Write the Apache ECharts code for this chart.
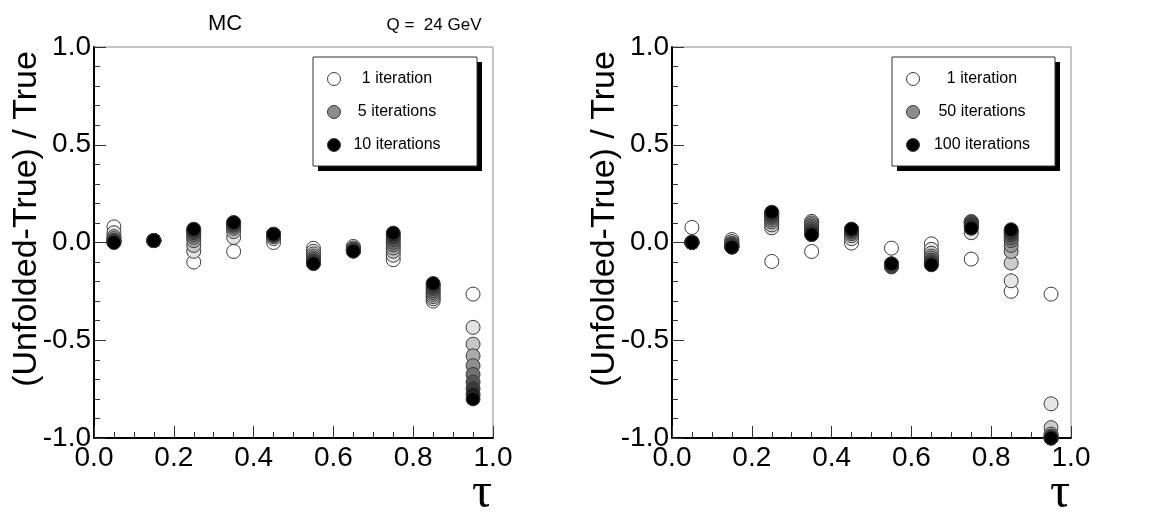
<!DOCTYPE html>
<html>
<head>
<meta charset="utf-8">
<script src="https://cdn.jsdelivr.net/npm/echarts@6/dist/echarts.min.js"></script>
<style>
html,body{margin:0;padding:0;background:#fff;}
#chart{width:1159px;height:515px;}
</style>
</head>
<body>
<div id="chart"></div>
<script>
// ---- data ----
const tauBins = [0.05, 0.15, 0.25, 0.35, 0.45, 0.55, 0.65, 0.75, 0.85, 0.95];
const xTicks = ['0.0', '0.2', '0.4', '0.6', '0.8', '1.0'];
const yTicks = ['-1.0', '-0.5', '0.0', '0.5', '1.0'];

// Left panel (MC, Q = 24 GeV): iterations 1..10, one row per iteration
const leftIterations = [1, 2, 3, 4, 5, 6, 7, 8, 9, 10];
const leftRatios = [
  [0.080, 0.010, -0.100, -0.046, 0.000, -0.030, -0.020, -0.088, -0.300, -0.264],
  [0.050, 0.010, -0.045,  0.026, 0.020, -0.045, -0.028, -0.065, -0.288, -0.434],
  [0.030, 0.010, -0.015,  0.056, 0.030, -0.058, -0.033, -0.045, -0.277, -0.520],
  [0.020, 0.010,  0.010,  0.072, 0.035, -0.070, -0.037, -0.028, -0.266, -0.580],
  [0.012, 0.010,  0.027,  0.082, 0.038, -0.080, -0.040, -0.012, -0.256, -0.630],
  [0.008, 0.010,  0.040,  0.089, 0.040, -0.088, -0.041,  0.000, -0.246, -0.675],
  [0.005, 0.010,  0.050,  0.094, 0.041, -0.095, -0.042,  0.015, -0.236, -0.714],
  [0.003, 0.010,  0.058,  0.097, 0.042, -0.100, -0.043,  0.028, -0.226, -0.748],
  [0.002, 0.010,  0.064,  0.100, 0.042, -0.105, -0.044,  0.040, -0.217, -0.777],
  [0.000, 0.010,  0.068,  0.102, 0.042, -0.108, -0.044,  0.048, -0.210, -0.800]
];
const leftLegend = ['1 iteration', '5 iterations', '10 iterations'];

// Right panel: iterations 1, 10, 20, ..., 100
const rightIterations = [1, 10, 20, 30, 40, 50, 60, 70, 80, 90, 100];
const rightRatios = [
  [0.077,  0.015, -0.097, -0.046, -0.003, -0.029, -0.007, -0.085, -0.250, -0.264],
  [0.002,  0.005,  0.075,  0.108,  0.020, -0.125, -0.035,  0.050, -0.196, -0.825],
  [0.001, -0.003,  0.090,  0.100,  0.035, -0.122, -0.055,  0.100, -0.105, -0.947],
  [0.001, -0.008,  0.105,  0.092,  0.045, -0.120, -0.070,  0.107, -0.046, -0.980],
  [0.000, -0.012,  0.115,  0.084,  0.052, -0.118, -0.080,  0.105, -0.015, -0.990],
  [0.000, -0.015,  0.125,  0.076,  0.057, -0.116, -0.090,  0.100,  0.010, -0.995],
  [0.000, -0.018,  0.133,  0.068,  0.060, -0.114, -0.097,  0.095,  0.025, -0.998],
  [0.000, -0.020,  0.140,  0.060,  0.063, -0.112, -0.103,  0.090,  0.040, -1.000],
  [0.000, -0.022,  0.146,  0.053,  0.065, -0.111, -0.108,  0.085,  0.050, -1.000],
  [0.000, -0.023,  0.151,  0.046,  0.067, -0.110, -0.111,  0.080,  0.058, -1.000],
  [0.000, -0.024,  0.155,  0.040,  0.068, -0.109, -0.114,  0.073,  0.065, -1.000]
];
const rightLegend = ['1 iteration', '50 iterations', '100 iterations'];

// ---- chart ----
const FONT = '"Liberation Sans", Arial, Helvetica, sans-serif';
function grayFor(k, n) {
  const g = Math.round(255 * (1 - k / (n - 1)));
  return 'rgb(' + g + ',' + g + ',' + g + ')';
}
function seriesFor(rows, iters, gi) {
  return rows.map((row, k) => ({
    type: 'scatter',
    name: iters[k] + (iters[k] === 1 ? ' iteration' : ' iterations'),
    xAxisIndex: gi, yAxisIndex: gi,
    data: tauBins.map((t, i) => [t, row[i]]),
    symbol: 'circle', symbolSize: 14, clip: false,
    itemStyle: { color: grayFor(k, rows.length), borderColor: '#3a3a3a', borderWidth: 1, opacity: 1 },
    emphasis: { disabled: true }
  }));
}
function xAxisFor(gi) {
  return {
    type: 'value', gridIndex: gi, min: 0, max: 1, interval: 0.2,
    axisLine: { show: true, onZero: false, lineStyle: { color: '#000', width: 2 } },
    axisTick: { show: true, inside: true, length: 12, lineStyle: { color: '#333', width: 1 } },
    minorTick: { show: true, splitNumber: 4, length: 6, lineStyle: { color: '#333', width: 1 } },
    splitLine: { show: false },
    axisLabel: { fontFamily: FONT, fontSize: 28, color: '#000', margin: 6,
      formatter: v => xTicks[Math.round(v / 0.2)] }
  };
}
function yAxisFor(gi) {
  return {
    type: 'value', gridIndex: gi, min: -1, max: 1, interval: 0.5,
    axisLine: { show: true, onZero: false, lineStyle: { color: '#000', width: 2 } },
    axisTick: { show: true, inside: true, length: 12, lineStyle: { color: '#333', width: 1 } },
    minorTick: { show: true, splitNumber: 5, length: 6, lineStyle: { color: '#333', width: 1 } },
    splitLine: { show: false },
    axisLabel: { fontFamily: FONT, fontSize: 28, color: '#000', margin: 3,
      formatter: v => yTicks[Math.round((v + 1) / 0.5)] }
  };
}
function legendGraphics(x0, y0, w, h, circleX, textX, labels) {
  const grays = ['#ffffff', '#8c8c8c', '#000000'];
  const els = [
    { type: 'rect', shape: { x: x0 + 5, y: y0 + 5, width: w, height: h }, style: { fill: '#000' }, z: 10 },
    { type: 'rect', shape: { x: x0, y: y0, width: w, height: h }, style: { fill: '#fff', stroke: '#333', lineWidth: 1 }, z: 11 }
  ];
  labels.forEach((lab, i) => {
    const cy = y0 + 22 + i * 33;
    els.push({ type: 'circle', shape: { cx: circleX, cy: cy, r: 6.5 }, style: { fill: grays[i], stroke: '#3a3a3a', lineWidth: 1 }, z: 12 });
    els.push({ type: 'text', x: textX, y: cy, style: { text: lab, font: '16px ' + FONT, fill: '#000', textAlign: 'center', textVerticalAlign: 'middle' }, z: 12 });
  });
  return els;
}

const chart = echarts.init(document.getElementById('chart'), null, { renderer: 'canvas' });
const option = {
  animation: false,
  backgroundColor: '#fff',
  grid: [
    { left: 94, top: 47, width: 399, height: 391, show: true, borderColor: '#888', borderWidth: 1, backgroundColor: 'transparent', outerBoundsMode: 'none' },
    { left: 672, top: 47, width: 399, height: 391, show: true, borderColor: '#888', borderWidth: 1, backgroundColor: 'transparent', outerBoundsMode: 'none' }
  ],
  xAxis: [xAxisFor(0), xAxisFor(1)],
  yAxis: [yAxisFor(0), yAxisFor(1)],
  series: [].concat(seriesFor(leftRatios, leftIterations, 0), seriesFor(rightRatios, rightIterations, 1)),
  graphic: [
    { type: 'text', x: 225, y: 24, style: { text: 'MC', font: '22px ' + FONT, fill: '#000', textAlign: 'center', textVerticalAlign: 'middle' } },
    { type: 'text', x: 434, y: 25, style: { text: 'Q =  24 GeV', font: '17px ' + FONT, fill: '#000', textAlign: 'center', textVerticalAlign: 'middle' } },
    { type: 'text', x: 27, y: 219, rotation: Math.PI / 2, style: { text: '(Unfolded-True) / True', font: '34px ' + FONT, fill: '#000', textAlign: 'center', textVerticalAlign: 'middle' } },
    { type: 'text', x: 605, y: 219, rotation: Math.PI / 2, style: { text: '(Unfolded-True) / True', font: '34px ' + FONT, fill: '#000', textAlign: 'center', textVerticalAlign: 'middle' } },
    { type: 'text', x: 492, y: 494, style: { text: 'τ', font: '50px "Liberation Serif", "DejaVu Serif", serif', fill: '#000', textAlign: 'right', textVerticalAlign: 'middle' } },
    { type: 'text', x: 1070, y: 494, style: { text: 'τ', font: '50px "Liberation Serif", "DejaVu Serif", serif', fill: '#000', textAlign: 'right', textVerticalAlign: 'middle' } }
  ].concat(
    legendGraphics(313, 57, 164, 109, 334, 397, leftLegend),
    legendGraphics(892, 57, 163, 109, 913, 982, rightLegend)
  )
};
chart.setOption(option);
</script>
</body>
</html>
